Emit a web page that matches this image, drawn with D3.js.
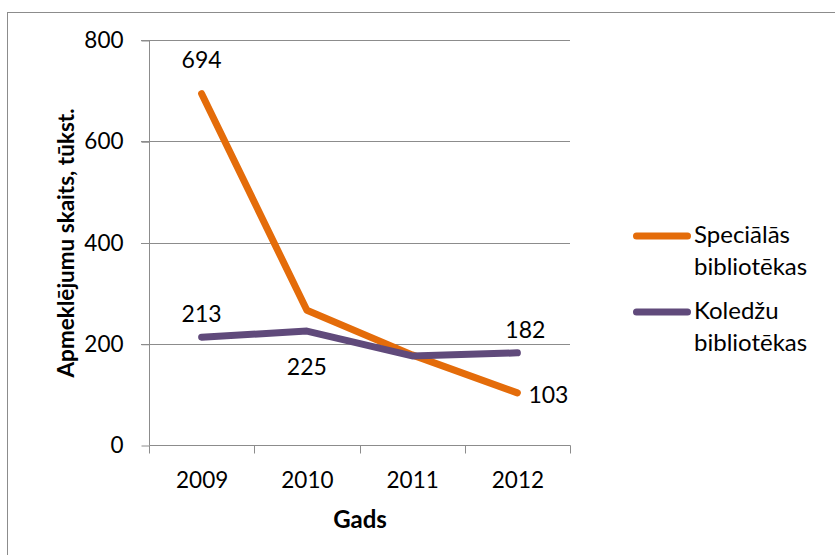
<!DOCTYPE html>
<html>
<head>
<meta charset="utf-8">
<script src="https://cdn.jsdelivr.net/npm/d3@7/dist/d3.min.js"></script>
<style>
  html, body { margin: 0; padding: 0; background: #fff; }
  svg { display: block; font-family: Lato, "Open Sans", sans-serif; }
</style>
</head>
<body>
<svg id="chart" width="835" height="555"></svg>
<script>
// Visit counts (thousands) per year
const years = ["2009", "2010", "2011", "2012"];
const specialas = [694, 266, 178, 103];
const koledzu = [213, 225, 176, 182];
const seriesNames = ["Speciālās bibliotēkas", "Koledžu bibliotēkas"];
const seriesColors = ["#E46C0A", "#604A7B"];
const yTicks = [0, 200, 400, 600, 800];
const yTitle = "Apmeklējumu skaits, tūkst.";
const xTitle = "Gads";

const svg = d3.select("#chart");
const gridColor = "#8c8c8c";

// outer chart frame
svg.append("rect")
  .attr("x", 7.5).attr("y", 12.5)
  .attr("width", 840).attr("height", 560)
  .attr("fill", "none").attr("stroke", gridColor);

const plot = { left: 149, right: 570, top: 40, bottom: 445 };

const x = d3.scaleBand().domain(years).range([plot.left, plot.right]);
const y = d3.scaleLinear().domain([0, 800]).range([plot.bottom, plot.top]);

// horizontal gridlines
svg.append("g")
  .selectAll("line")
  .data(yTicks.filter(t => t > 0))
  .join("line")
  .attr("x1", plot.left - 8).attr("x2", plot.right)
  .attr("y1", d => Math.round(y(d)) + 0.5).attr("y2", d => Math.round(y(d)) + 0.5)
  .attr("stroke", gridColor).attr("stroke-width", 1);

// y axis
const yAxis = svg.append("g")
  .attr("transform", `translate(${plot.left + 0.5},0.5)`)
  .call(d3.axisLeft(y).tickValues(yTicks).tickSize(8).tickPadding(18).tickFormat(d3.format("d")));
yAxis.select(".domain").attr("stroke", gridColor).attr("d", `M0,${plot.top}V${plot.bottom}`);
yAxis.selectAll(".tick line").attr("stroke", gridColor);
yAxis.selectAll(".tick text").attr("font-size", 22.5).attr("fill", "#000").attr("font-family", "Lato");

// x axis
const xAxis = svg.append("g")
  .attr("transform", `translate(0.5,${plot.bottom + 0.5})`)
  .call(d3.axisBottom(x).tickSize(0).tickPadding(27));
xAxis.select(".domain").attr("stroke", gridColor).attr("d", `M${plot.left},0H${plot.right}`);
xAxis.selectAll(".tick text").attr("font-size", 22.5).attr("fill", "#000").attr("font-family", "Lato");
// category boundary ticks
const bounds = years.map(d => x(d)).concat([plot.right]);
xAxis.append("g").selectAll("line")
  .data(bounds)
  .join("line")
  .attr("x1", d => Math.round(d)).attr("x2", d => Math.round(d))
  .attr("y1", 0).attr("y2", 8)
  .attr("stroke", gridColor);

// axis titles
svg.append("text")
  .attr("x", 360).attr("y", 528)
  .attr("text-anchor", "middle")
  .attr("font-size", 24).attr("font-weight", "bold")
  .text(xTitle);

svg.append("text")
  .attr("transform", `translate(74,243) rotate(-90)`)
  .attr("text-anchor", "middle")
  .attr("font-size", 22.5).attr("font-weight", "bold")
  .text(yTitle);

// lines
const cx = d => x(d) + x.bandwidth() / 2;
const line = d3.line().x(d => cx(d.year)).y(d => y(d.value));
const allSeries = [specialas, koledzu].map((vals, i) => ({
  name: seriesNames[i],
  color: seriesColors[i],
  points: years.map((yr, j) => ({ year: yr, value: vals[j] }))
}));

svg.append("g").selectAll("path")
  .data(allSeries)
  .join("path")
  .attr("d", s => line(s.points))
  .attr("fill", "none")
  .attr("stroke", s => s.color)
  .attr("stroke-width", 7)
  .attr("stroke-linecap", "round")
  .attr("stroke-linejoin", "round");

// value labels (placement per point)
const labels = [
  { s: 0, i: 0, dx: 0, dy: -26, anchor: "middle" },
  { s: 0, i: 3, dx: 11, dy: 10, anchor: "start" },
  { s: 1, i: 0, dx: 0, dy: -15, anchor: "middle" },
  { s: 1, i: 1, dx: 0, dy: 44, anchor: "middle" },
  { s: 1, i: 3, dx: 8, dy: -15, anchor: "middle" }
];
const seriesVals = [specialas, koledzu];
svg.append("g").selectAll("text")
  .data(labels)
  .join("text")
  .attr("x", d => cx(years[d.i]) + d.dx)
  .attr("y", d => y(seriesVals[d.s][d.i]) + d.dy)
  .attr("text-anchor", d => d.anchor)
  .attr("font-size", 23)
  .attr("fill", "#000")
  .text(d => seriesVals[d.s][d.i]);

// legend
const legend = svg.append("g");
const legendY = [236, 312];
allSeries.forEach((s, i) => {
  const g = legend.append("g");
  g.append("line")
    .attr("x1", 636.5).attr("x2", 687.5)
    .attr("y1", legendY[i]).attr("y2", legendY[i])
    .attr("stroke", s.color).attr("stroke-width", 7).attr("stroke-linecap", "round");
  const words = s.name.split(" ");
  const t = g.append("text")
    .attr("x", 694).attr("y", legendY[i] + 7)
    .attr("font-size", 24).attr("fill", "#000");
  words.forEach((w, k) => {
    t.append("tspan").attr("x", 694).attr("dy", k === 0 ? 0 : 32).text(w);
  });
});
</script>
</body>
</html>
